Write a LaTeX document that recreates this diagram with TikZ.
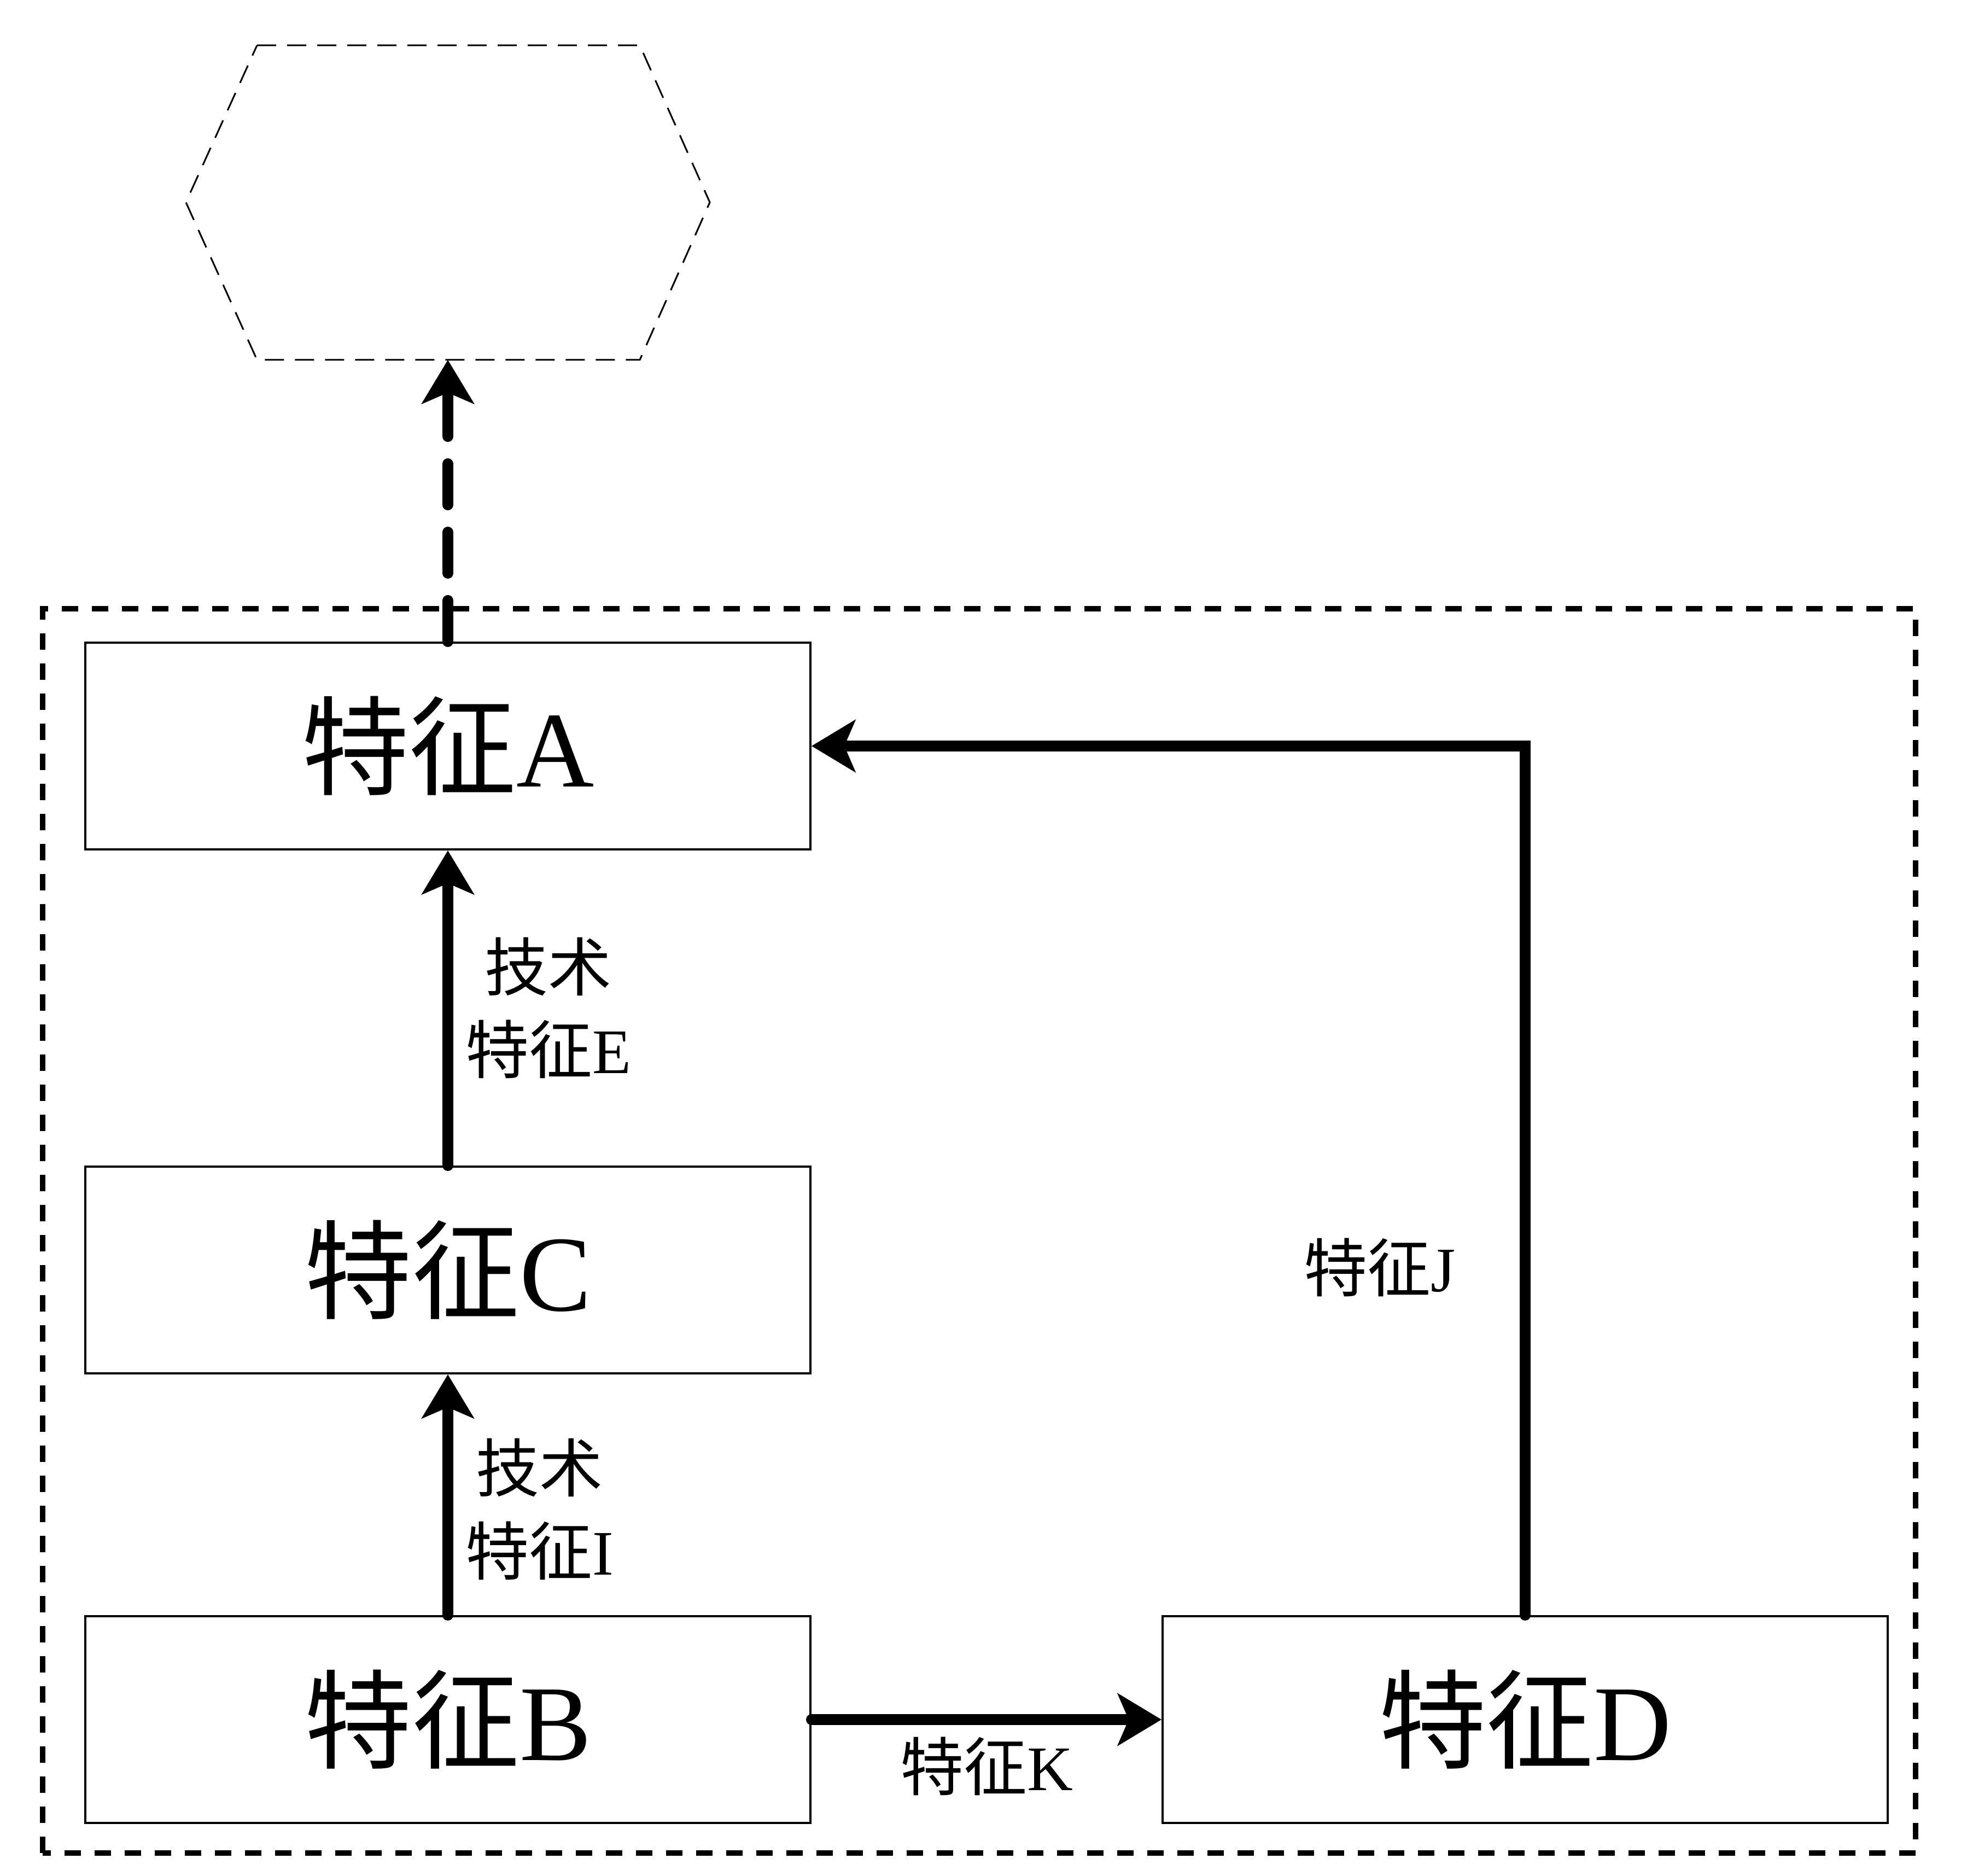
\documentclass[tikz,border=0pt]{standalone}
\usepackage{fontspec}
\setmainfont{Liberation Serif}
\newfontfamily\cjk{Noto Sans CJK SC}
\usetikzlibrary{positioning,arrows.meta}

\begin{document}
\begin{tikzpicture}[>={Stealth[length=0.8cm,width=0.95cm,inset=0.2cm]}, node distance=5.76cm,
  box/.style={draw, line width=0.04cm, minimum width=13.26cm, minimum height=3.78cm, inner sep=0pt, font=\fontsize{56}{60}\selectfont},
  flow/.style={->, line width=0.2cm, line cap=round},
  lbl/.style={font=\fontsize{33}{43}\selectfont, align=center, inner sep=2pt}]
  \useasboundingbox (0,0) rectangle (35.97,34.29);
  % outer frame
  \draw[line width=0.1cm, dash pattern=on 0.3cm off 0.25cm] (0.78,0.41) rectangle (35.03,23.16);
  % hexagon
  \draw[line width=0.03cm, dash pattern=on 0.35cm off 0.2cm] (4.70,33.46) -- (11.70,33.46) -- (12.98,30.59) -- (11.70,27.71) -- (4.70,27.71) -- (3.40,30.59) -- cycle;
  \coordinate (hex) at (8.19,27.71);

  \node[box] (a) at (8.19,20.65) {{\cjk 特征}A};
  \node[box, below=of a] (c) {{\cjk 特征}C};
  \node[box, below=4.40cm of c] (b) {{\cjk 特征}B};
  \node[box, right=6.40cm of b] (d) {{\cjk 特征}D};

  \draw[flow, dash pattern=on 0.75cm off 0.5cm] (a.north) -- (hex);
  \draw[flow] (c.north) -- node[lbl, right=0.15cm] {{\cjk 技术}\\{\cjk 特征}E} (a.south);
  \draw[flow] (b.north) -- node[lbl, right=0.15cm, pos=0.44] {{\cjk 技术}\\{\cjk 特征}I} (c.south);
  \draw[flow] (d.north) |- node[lbl, left=1.1cm, pos=0.2] {{\cjk 特征}J} (a.east);
  \draw[flow] (b.east) -- node[lbl, below=0.15cm] {{\cjk 特征}K} (d.west);
\end{tikzpicture}
\end{document}
